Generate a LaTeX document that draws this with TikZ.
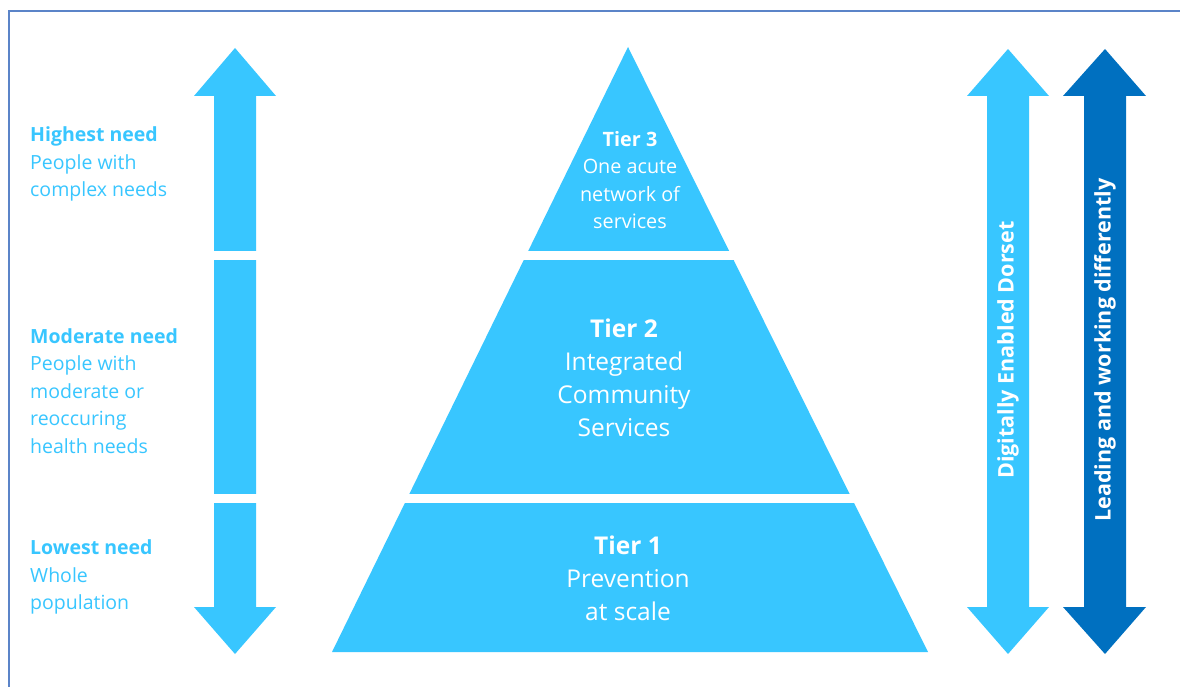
\documentclass[tikz,border=0pt]{standalone}
\usepackage{fontspec}
\setmainfont{Open Sans}
\definecolor{lightcyan}{RGB}{56,198,255}
\definecolor{darkblue}{RGB}{0,112,192}
\definecolor{frame}{RGB}{91,132,200}
\begin{document}
\begin{tikzpicture}[x=1pt,y=-1pt,
  tierfill/.style={fill=lightcyan,draw=none},
  gap/.style={fill=white,draw=none},
  sidetext/.style={text=lightcyan,align=left,anchor=west,inner sep=0pt,
    font=\fontsize{19.5}{27.6}\selectfont},
  tiersmall/.style={text=white,align=center,inner sep=0pt,
    font=\fontsize{19.8}{27.6}\selectfont},
  tierbig/.style={text=white,align=center,inner sep=0pt,
    font=\fontsize{24.5}{33}\selectfont},
  vtext/.style={text=white,rotate=90,inner sep=0pt,
    font=\bfseries\fontsize{21.5}{24}\selectfont}]
\useasboundingbox (0,0) rectangle (1180,687);
\fill[white] (0,0) rectangle (1180,687);
% frame
\draw[frame,line width=1.6pt] (9,687) -- (9,11) -- (1180,11);
% left double arrow
\fill[lightcyan] (235,48) -- (276,96) -- (256,96) -- (256,607) -- (276,607)
  -- (235,654) -- (194,607) -- (214,607) -- (214,96) -- (194,96) -- cycle;
% pyramid
\fill[lightcyan] (628,47) -- (928,652) -- (332,652) -- cycle;
% white gaps
\fill[gap] (190,251) rectangle (950,260);
\fill[gap] (190,494) rectangle (950,503);
% right arrows
\fill[lightcyan] (1008,49) -- (1049,96) -- (1029,96) -- (1029,607) -- (1049,607)
  -- (1008,654) -- (967,607) -- (987,607) -- (987,96) -- (967,96) -- cycle;
\fill[darkblue] (1105,49) -- (1146,96) -- (1126,96) -- (1126,607) -- (1146,607)
  -- (1105,654) -- (1063,607) -- (1084,607) -- (1084,96) -- (1063,96) -- cycle;
% texts
\node[sidetext] (high) at (30,164) {\textbf{Highest need}\\People with\\complex needs};
\node[sidetext] (mod) at (30,391) {\textbf{Moderate need}\\People with\\moderate or\\reoccuring\\health needs};
\node[sidetext] (low) at (30,577) {\textbf{Lowest need}\\Whole\\population};
\node[tiersmall] (t3) at (630,180) {\textbf{Tier 3}\\One acute\\network of\\services};
\node[tierbig] (t2) at (624,378) {\textbf{Tier 2}\\Integrated\\Community\\Services};
\node[tierbig] (t1) at (628,578) {\textbf{Tier 1}\\Prevention\\at scale};
\node[vtext] (dig) at (1008,350) {Digitally Enabled Dorset};
\node[vtext] (lead) at (1105,350) {Leading and working differently};
\end{tikzpicture}
\end{document}
